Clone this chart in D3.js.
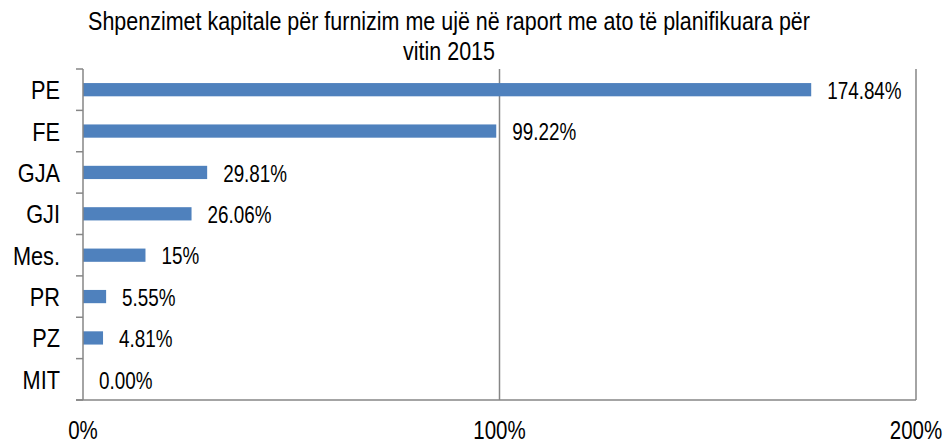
<!DOCTYPE html>
<html lang="en">
<head>
    <meta charset="UTF-8">
    <title>Shpenzimet kapitale</title>
    <script src="https://d3js.org/d3.v7.min.js"></script>
    <style>
        body { margin: 0; background: #fff; }
        text { font-family: "Liberation Sans Narrow", "Arial Narrow", "Liberation Sans", Arial, sans-serif; fill: #000; }
        .title { font-size: 26.2px; }
        .cat { font-size: 26.5px; }
        .value { font-size: 23px; }
        .xtick { font-size: 25px; }
    </style>
</head>
<body>
    <div id="chart"></div>
    <script>
        const categories = ["PE", "FE", "GJA", "GJI", "Mes.", "PR", "PZ", "MIT"];
        const values = [174.84, 99.22, 29.81, 26.06, 15, 5.55, 4.81, 0];
        const valueLabels = ["174.84%", "99.22%", "29.81%", "26.06%", "15%", "5.55%", "4.81%", "0.00%"];
        const xTicks = [0, 100, 200];
        const titleLines = ["Shpenzimet kapitale për furnizim me ujë në raport me ato të planifikuara për", "vitin 2015"];

        const width = 945;
        const height = 444;
        const margin = { top: 69, right: 29, bottom: 44, left: 83 };
        const axisColor = "#868686";
        const narrow = 0.82; // condensed look, no narrow font installed

        const svg = d3.select("#chart")
            .append("svg")
            .attr("width", width)
            .attr("height", height);

        // title
        svg.selectAll(".title")
            .data(titleLines)
            .enter()
            .append("text")
            .attr("class", "title")
            .attr("transform", (d, i) => `translate(449, ${30 + i * 30}) scale(${narrow}, 1)`)
            .attr("text-anchor", "middle")
            .text(d => d);

        const x = d3.scaleLinear()
            .domain([0, 200])
            .range([margin.left, width - margin.right]);

        const y = d3.scaleBand()
            .domain(categories)
            .range([margin.top, height - margin.bottom])
            .paddingInner(0.68)
            .paddingOuter(0.34);

        // vertical gridlines
        svg.selectAll(".grid")
            .data(xTicks.slice(1))
            .enter()
            .append("line")
            .attr("x1", d => x(d))
            .attr("x2", d => x(d))
            .attr("y1", margin.top)
            .attr("y2", height - margin.bottom)
            .attr("stroke", axisColor)
            .attr("stroke-width", 1.5);

        // bars
        svg.selectAll(".bar")
            .data(values)
            .enter()
            .append("rect")
            .attr("x", x(0))
            .attr("y", (d, i) => y(categories[i]))
            .attr("width", d => x(d) - x(0))
            .attr("height", y.bandwidth())
            .attr("fill", "#4F81BD");

        // value labels
        svg.selectAll(".value")
            .data(values)
            .enter()
            .append("text")
            .attr("class", "value")
            .attr("transform", (d, i) => `translate(${x(d) + 16}, ${y(categories[i]) + y.bandwidth() / 2}) scale(${narrow}, 1)`)
            .attr("dy", "0.4em")
            .text((d, i) => valueLabels[i]);

        // y axis with ticks between categories
        const yAxis = svg.append("g");
        yAxis.append("line")
            .attr("x1", x(0)).attr("x2", x(0))
            .attr("y1", margin.top).attr("y2", height - margin.bottom)
            .attr("stroke", axisColor).attr("stroke-width", 1.5);
        const bounds = d3.range(categories.length + 1).map(i => margin.top + i * (height - margin.top - margin.bottom) / categories.length);
        yAxis.selectAll(".tick")
            .data(bounds)
            .enter()
            .append("line")
            .attr("x1", x(0) - 7).attr("x2", x(0))
            .attr("y1", d => d).attr("y2", d => d)
            .attr("stroke", axisColor).attr("stroke-width", 1.5);
        yAxis.selectAll(".cat")
            .data(categories)
            .enter()
            .append("text")
            .attr("class", "cat")
            .attr("transform", d => `translate(60, ${y(d) + y.bandwidth() / 2}) scale(${narrow}, 1)`)
            .attr("dy", "0.36em")
            .attr("text-anchor", "end")
            .text(d => d);

        // x axis
        svg.append("line")
            .attr("x1", x(0) - 7).attr("x2", x(200))
            .attr("y1", height - margin.bottom).attr("y2", height - margin.bottom)
            .attr("stroke", axisColor).attr("stroke-width", 1.5);
        svg.selectAll(".xtick")
            .data(xTicks)
            .enter()
            .append("text")
            .attr("class", "xtick")
            .attr("transform", d => `translate(${x(d)}, 439) scale(${narrow}, 1)`)
            .attr("text-anchor", "middle")
            .text(d => d + "%");
    </script>
</body>
</html>
